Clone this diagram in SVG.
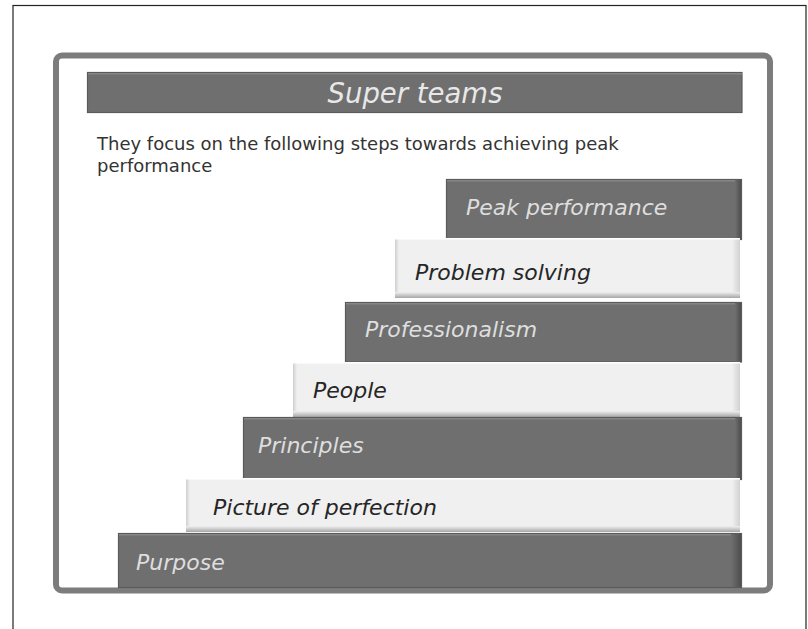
<svg xmlns="http://www.w3.org/2000/svg" width="808" height="629" viewBox="0 0 808 629">
  <style>
    .frame { fill: none; stroke: #7c7c7c; stroke-width: 6; }
    .dk { fill: #6f6f6f; stroke: #5a5a5a; stroke-width: 1.2; }
    .lt { fill: #f0f0f0; }
    .lbl { font-family: "DejaVu Sans", Verdana, sans-serif; font-style: italic; font-size: 22px; }
    .lbl-dk { fill: #dedede; }
    .lbl-lt { fill: #262626; }
    .intro { font-family: "DejaVu Sans", Verdana, sans-serif; font-size: 18px; fill: #333333; }
  </style>
  <defs>
    <linearGradient id="dkRight" x1="0" y1="0" x2="1" y2="0">
      <stop offset="0" stop-color="#6f6f6f"/>
      <stop offset="1" stop-color="#4e4e4e"/>
    </linearGradient>
    <linearGradient id="ltBottom" x1="0" y1="0" x2="0" y2="1">
      <stop offset="0" stop-color="#f0f0f0"/>
      <stop offset="1" stop-color="#a6a6a6"/>
    </linearGradient>
    <linearGradient id="ltRight" x1="0" y1="0" x2="1" y2="0">
      <stop offset="0" stop-color="#f0f0f0"/>
      <stop offset="1" stop-color="#d2d2d2"/>
    </linearGradient>
    <linearGradient id="ltLeft" x1="0" y1="0" x2="1" y2="0">
      <stop offset="0" stop-color="#cfcfcf"/>
      <stop offset="1" stop-color="#f0f0f0"/>
    </linearGradient>
  </defs>

  <!-- page -->
  <rect x="0" y="0" width="808" height="629" fill="#ffffff"/>
  <rect x="13" y="5.5" width="793" height="630" fill="none" stroke="#222222" stroke-width="1.2"/>

  <!-- slide frame -->
  <rect id="frame" class="frame" x="56" y="55.5" width="714" height="535" rx="6"/>

  <!-- title -->
  <g id="title">
    <rect class="dk" x="87.5" y="72.5" width="654.5" height="40"/>
    <rect x="88" y="73" width="654" height="1.5" fill="#858585"/>
    <text x="415" y="103" text-anchor="middle" font-family="'DejaVu Sans', Verdana, sans-serif" font-style="italic" font-size="27.5" fill="#e8e8e8">Super teams</text>
  </g>

  <g id="intro">
    <text class="intro" x="97" y="150">They focus on the following steps towards achieving peak</text>
    <text class="intro" x="97" y="172">performance</text>
  </g>

  <!-- staircase of steps, top to bottom -->
  <g id="step-peak-performance">
    <rect class="dk" x="446.5" y="179.5" width="295" height="60"/>
    <rect x="735" y="180" width="6" height="59" fill="url(#dkRight)"/>
    <rect x="447" y="180" width="288" height="1.5" fill="#868686"/>
    <text class="lbl lbl-dk" x="466" y="215">Peak performance</text>
  </g>

  <g id="step-problem-solving">
    <rect class="lt" x="395" y="238" width="345" height="60"/>
    <rect x="395" y="238" width="4" height="60" fill="url(#ltLeft)"/>
    <rect x="732" y="238" width="8" height="60" fill="url(#ltRight)"/>
    <rect x="395" y="292" width="345" height="6" fill="url(#ltBottom)"/>
    <rect x="395" y="238" width="345" height="1.5" fill="#ffffff"/>
    <text class="lbl lbl-lt" x="415" y="280">Problem solving</text>
  </g>

  <g id="step-professionalism">
    <rect class="dk" x="345.5" y="302.5" width="396" height="59.5"/>
    <rect x="735" y="303" width="6" height="58.5" fill="url(#dkRight)"/>
    <rect x="346" y="303" width="389" height="1.5" fill="#868686"/>
    <text class="lbl lbl-dk" x="365" y="337">Professionalism</text>
  </g>

  <g id="step-people">
    <rect class="lt" x="293" y="362" width="447" height="55"/>
    <rect x="293" y="362" width="4" height="55" fill="url(#ltLeft)"/>
    <rect x="732" y="362" width="8" height="55" fill="url(#ltRight)"/>
    <rect x="293" y="411" width="447" height="6" fill="url(#ltBottom)"/>
    <rect x="293" y="362" width="447" height="1.5" fill="#ffffff"/>
    <text class="lbl lbl-lt" x="313" y="398">People</text>
  </g>

  <g id="step-principles">
    <rect class="dk" x="243.5" y="417.5" width="498" height="62"/>
    <rect x="735" y="418" width="6" height="61" fill="url(#dkRight)"/>
    <rect x="244" y="418" width="491" height="1.5" fill="#868686"/>
    <text class="lbl lbl-dk" x="258" y="453">Principles</text>
  </g>

  <g id="step-picture-of-perfection">
    <rect class="lt" x="186" y="478" width="554" height="54"/>
    <rect x="186" y="478" width="4" height="54" fill="url(#ltLeft)"/>
    <rect x="732" y="478" width="8" height="54" fill="url(#ltRight)"/>
    <rect x="186" y="526" width="554" height="6" fill="url(#ltBottom)"/>
    <rect x="186" y="478" width="554" height="1.5" fill="#ffffff"/>
    <text class="lbl lbl-lt" x="213" y="515">Picture of perfection</text>
  </g>

  <g id="step-purpose">
    <rect class="dk" x="118.5" y="533.5" width="623" height="54"/>
    <rect x="731" y="534" width="10" height="53" fill="url(#dkRight)"/>
    <rect x="119" y="534" width="612" height="1.5" fill="#868686"/>
    <text class="lbl lbl-dk" x="136" y="570">Purpose</text>
  </g>

  <!-- no connectors in this diagram -->
  <g id="connectors"/>
</svg>
